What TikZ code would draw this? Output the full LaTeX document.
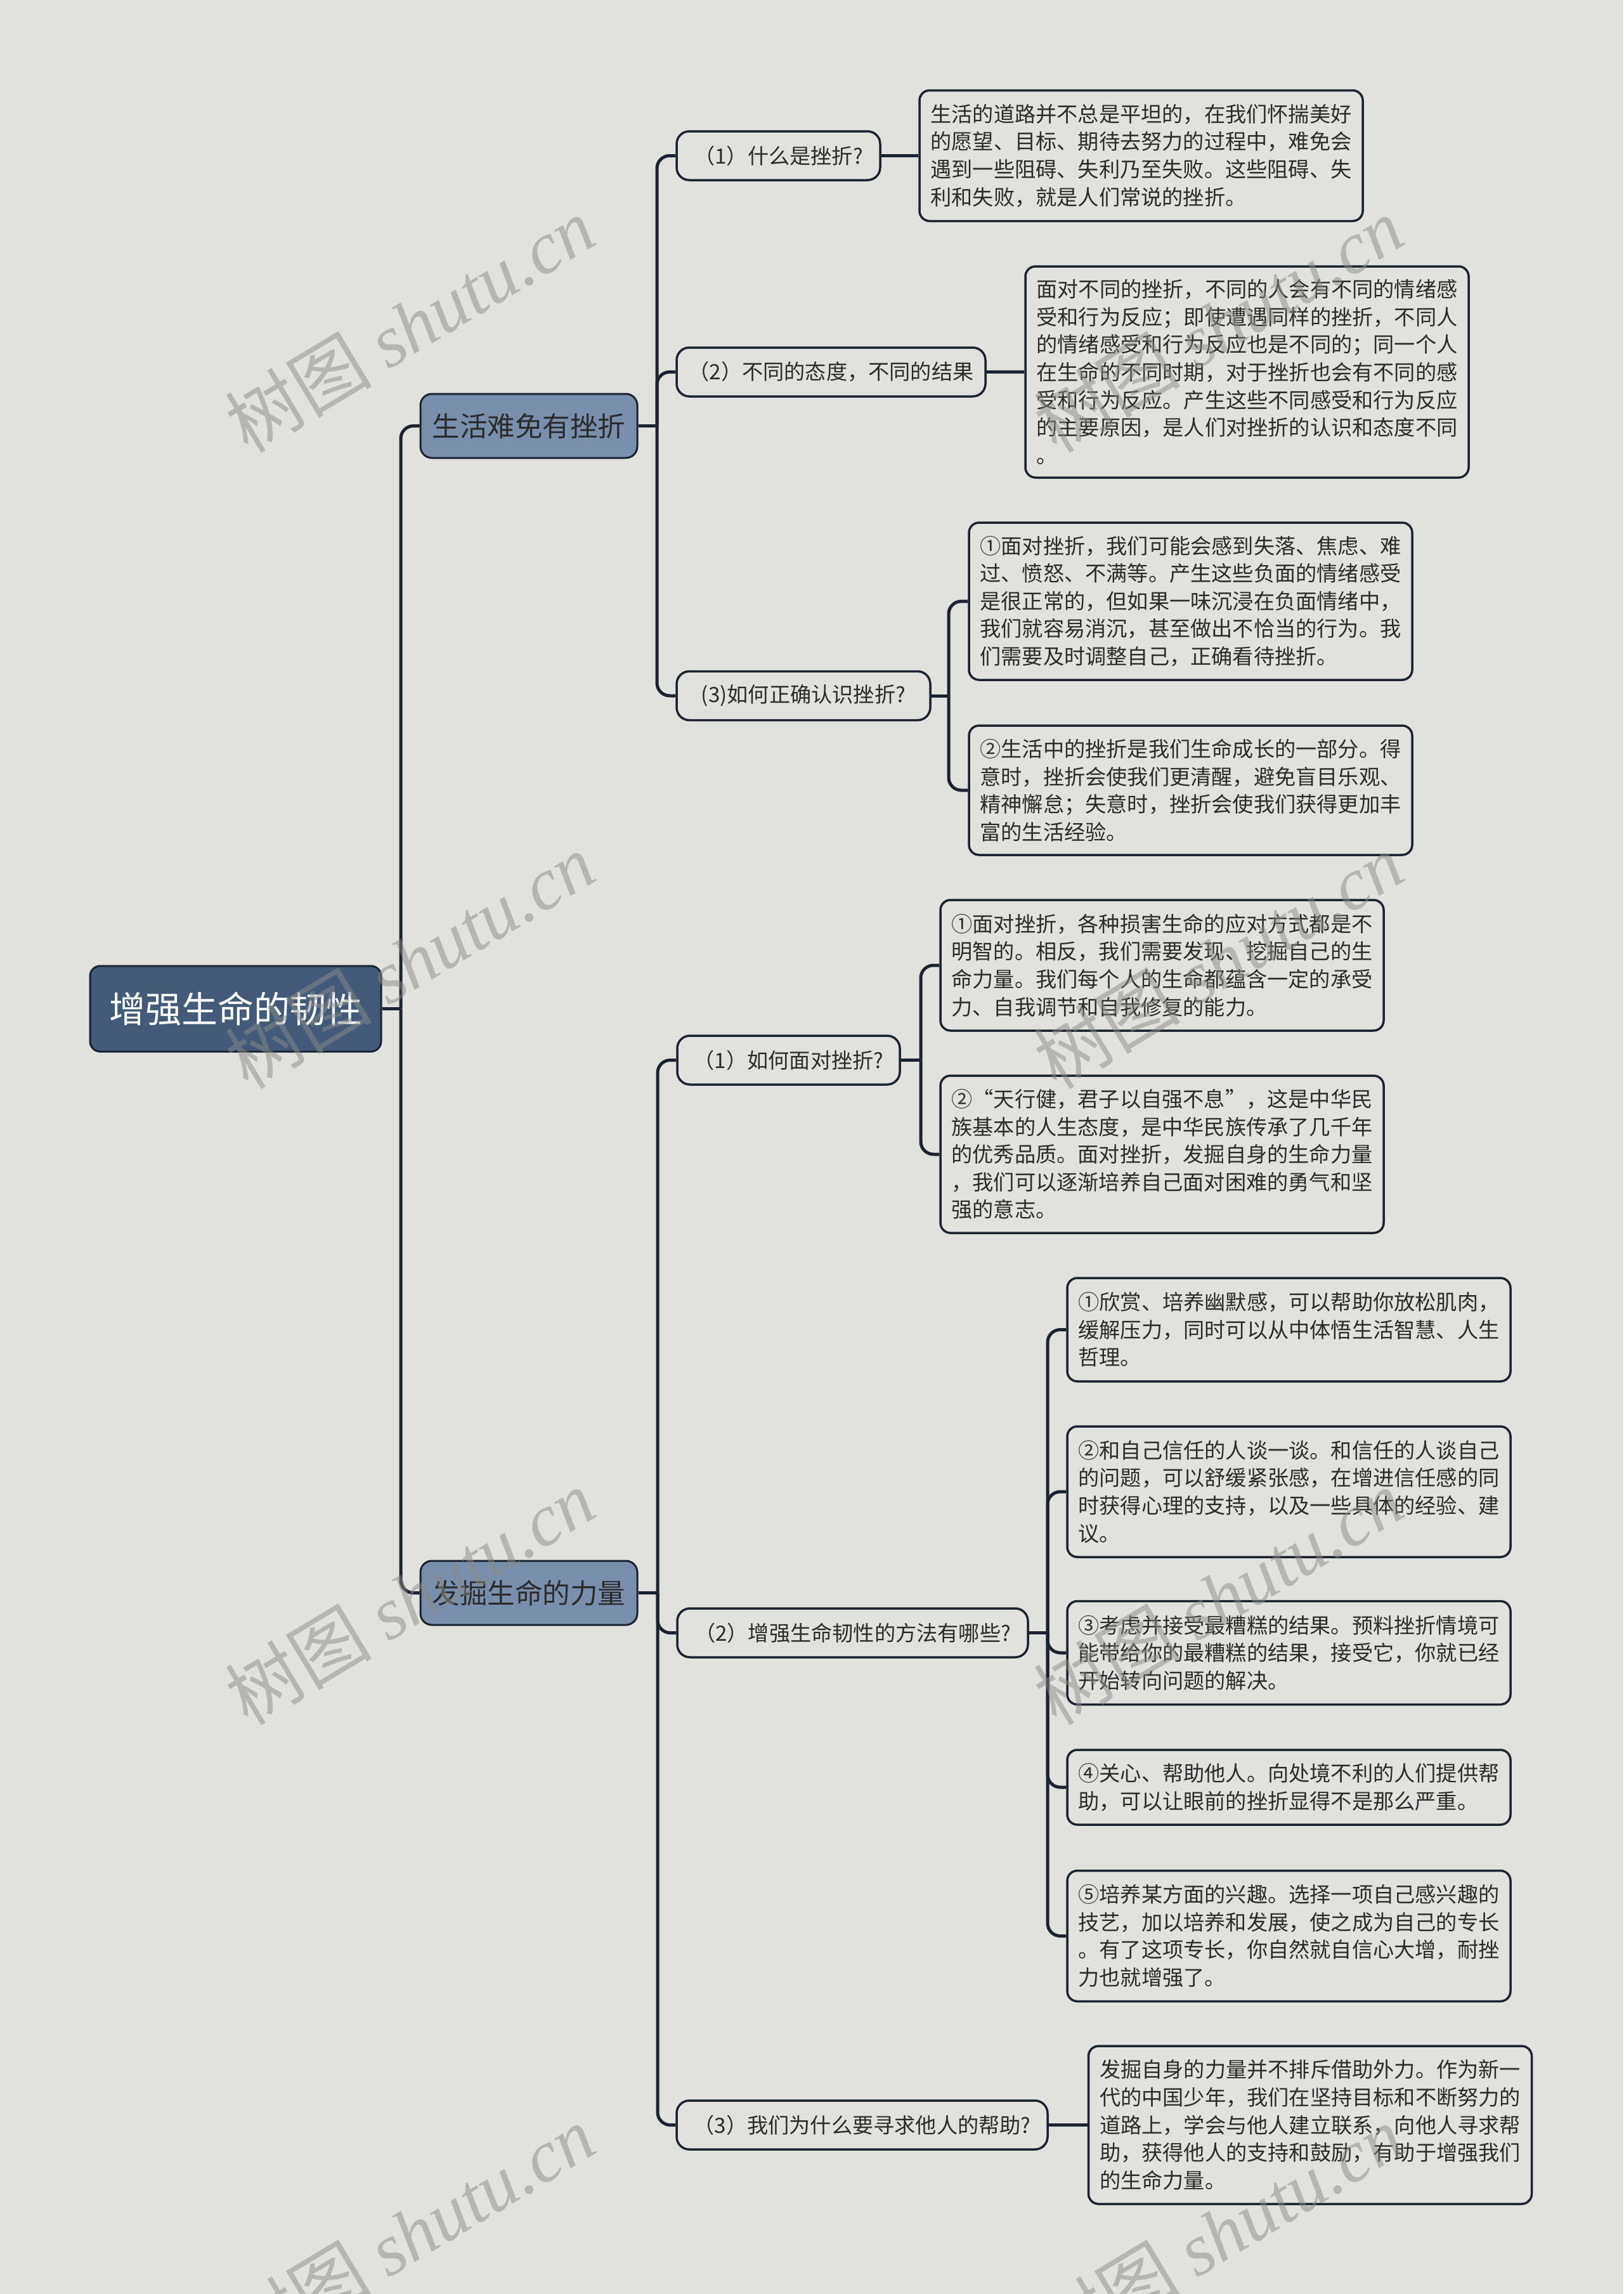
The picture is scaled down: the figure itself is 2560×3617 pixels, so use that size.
\documentclass[tikz,border=0pt]{standalone}
\usepackage{fontspec}
\setmainfont{Noto Sans CJK SC}
\newfontfamily\wmserif{Liberation Serif}
\definecolor{bg}{HTML}{E1E1DD}
\definecolor{rootfill}{HTML}{435A79}
\definecolor{lonefill}{HTML}{7A8FAB}
\definecolor{linec}{HTML}{1B2331}
\definecolor{txt}{HTML}{2B2B2B}
\definecolor{wm}{HTML}{8A8A86}
\tikzset{
  box/.style={rectangle, draw=linec, line width=3.5pt, inner sep=0pt, text=txt},
  rootbox/.style={box, fill=rootfill, text=white, rounded corners=16pt, line width=3pt,
    font=\fontsize{57}{70}\selectfont},
  lonebox/.style={box, fill=lonefill, rounded corners=18pt, line width=3pt,
    font=\fontsize{43.5}{52}\selectfont},
  ltwobox/.style={box, rounded corners=20pt, font=\fontsize{33.2}{40}\selectfont},
  leafbox/.style={box, rounded corners=16pt, align=left, font=\fontsize{33.2}{43.6}\selectfont},
  conn/.style={draw=linec, line width=5pt, line join=round},
  rconn/.style={conn, rounded corners=20pt},
  wmark/.style={text=wm, opacity=0.5, rotate=31, inner sep=0pt, font=\fontsize{116}{120}\selectfont}
}
\begin{document}
\begin{tikzpicture}[x=1pt,y=-1pt]
\useasboundingbox (0,0) rectangle (2560,3617);
\fill[bg] (0,0) rectangle (2560,3617);

% root and level 1
\node[rootbox, minimum width=459pt, minimum height=135pt] (root) at (371.5,1590.5) {增强生命的韧性};
\node[lonebox, minimum width=342pt, minimum height=101pt] (la) at (834,671.5) {生活难免有挫折};
\node[lonebox, minimum width=342pt, minimum height=101pt] (lb) at (834,2511.5) {发掘生命的力量};

% level 2, group 1
\node[ltwobox, minimum width=321pt, minimum height=77pt] (a1) at (1227.5,245.5) {（1）什么是挫折?};
\node[ltwobox, minimum width=487pt, minimum height=77pt] (a2) at (1310.5,586.5) {（2）不同的态度，不同的结果};
\node[ltwobox, minimum width=400pt, minimum height=77pt] (a3) at (1267,1097) {(3)如何正确认识挫折?};

% level 2, group 2
\node[ltwobox, minimum width=351pt, minimum height=77pt] (b1) at (1243.5,1671.5) {（1）如何面对挫折?};
\node[ltwobox, minimum width=553pt, minimum height=77pt] (b2) at (1344.5,2574.5) {（2）增强生命韧性的方法有哪些?};
\node[ltwobox, minimum width=585pt, minimum height=77pt] (b3) at (1359.5,3350.5) {（3）我们为什么要寻求他人的帮助?};

% leaves group 1
\node[leafbox, minimum width=699pt, minimum height=206pt] (lfa) at (1799.5,245.5) {生活的道路并不总是平坦的，在我们怀揣美好\\的愿望、目标、期待去努力的过程中，难免会\\遇到一些阻碍、失利乃至失败。这些阻碍、失\\利和失败，就是人们常说的挫折。};
\node[leafbox, minimum width=699pt, minimum height=333pt] (lfb) at (1966.5,586.5) {面对不同的挫折，不同的人会有不同的情绪感\\受和行为反应；即使遭遇同样的挫折，不同人\\的情绪感受和行为反应也是不同的；同一个人\\在生命的不同时期，对于挫折也会有不同的感\\受和行为反应。产生这些不同感受和行为反应\\的主要原因，是人们对挫折的认识和态度不同\\。};
\node[leafbox, minimum width=699pt, minimum height=248pt] (lfc) at (1877.5,948) {①面对挫折，我们可能会感到失落、焦虑、难\\过、愤怒、不满等。产生这些负面的情绪感受\\是很正常的，但如果一味沉浸在负面情绪中，\\我们就容易消沉，甚至做出不恰当的行为。我\\们需要及时调整自己，正确看待挫折。};
\node[leafbox, minimum width=699pt, minimum height=204pt] (lfd) at (1877.5,1246) {②生活中的挫折是我们生命成长的一部分。得\\意时，挫折会使我们更清醒，避免盲目乐观、\\精神懈怠；失意时，挫折会使我们获得更加丰\\富的生活经验。};

% leaves group 2
\node[leafbox, minimum width=699pt, minimum height=206pt] (lfe) at (1832.5,1522) {①面对挫折，各种损害生命的应对方式都是不\\明智的。相反，我们需要发现、挖掘自己的生\\命力量。我们每个人的生命都蕴含一定的承受\\力、自我调节和自我修复的能力。};
\node[leafbox, minimum width=699pt, minimum height=248pt] (lff) at (1832.5,1820) {②“天行健，君子以自强不息”，这是中华民\\族基本的人生态度，是中华民族传承了几千年\\的优秀品质。面对挫折，发掘自身的生命力量\\，我们可以逐渐培养自己面对困难的勇气和坚\\强的意志。};
\node[leafbox, minimum width=699pt, minimum height=163pt] (lfg) at (2032.5,2096.5) {①欣赏、培养幽默感，可以帮助你放松肌肉，\\缓解压力，同时可以从中体悟生活智慧、人生\\哲理。};
\node[leafbox, minimum width=699pt, minimum height=206pt] (lfh) at (2032.5,2352) {②和自己信任的人谈一谈。和信任的人谈自己\\的问题，可以舒缓紧张感，在增进信任感的同\\时获得心理的支持，以及一些具体的经验、建\\议。};
\node[leafbox, minimum width=699pt, minimum height=163pt] (lfi) at (2032.5,2606) {③考虑并接受最糟糕的结果。预料挫折情境可\\能带给你的最糟糕的结果，接受它，你就已经\\开始转向问题的解决。};
\node[leafbox, minimum width=699pt, minimum height=118pt] (lfj) at (2032.5,2818) {④关心、帮助他人。向处境不利的人们提供帮\\助，可以让眼前的挫折显得不是那么严重。};
\node[leafbox, minimum width=699pt, minimum height=206pt] (lfk) at (2032.5,3052.5) {⑤培养某方面的兴趣。选择一项自己感兴趣的\\技艺，加以培养和发展，使之成为自己的专长\\。有了这项专长，你自然就自信心大增，耐挫\\力也就增强了。};
\node[leafbox, minimum width=699pt, minimum height=249pt] (lfl) at (2066,3350.5) {发掘自身的力量并不排斥借助外力。作为新一\\代的中国少年，我们在坚持目标和不断努力的\\道路上，学会与他人建立联系，向他人寻求帮\\助，获得他人的支持和鼓励，有助于增强我们\\的生命力量。};

% trunk coordinates
\coordinate (t0) at (632,0);
\coordinate (t1) at (1036,0);
\coordinate (t2) at (1037,0);
\coordinate (s3) at (1496,0);
\coordinate (sb1) at (1452,0);
\coordinate (sb2) at (1652,0);

% connectors root
\draw[conn] (root.east) -- (root.east -| t0);
\draw[rconn] (root.east -| t0) |- (la.west);
\draw[rconn] (root.east -| t0) |- (lb.west);

% group 1
\draw[conn] (la.east) -- (la.east -| t1);
\draw[rconn] (la.east -| t1) |- (a1.west);
\draw[rconn] (la.east -| t1) |- (a2.west);
\draw[rconn] (la.east -| t1) |- (a3.west);
\draw[conn] (a1.east) -- (lfa.west);
\draw[conn] (a2.east) -- (lfb.west);
\draw[conn] (a3.east) -- (a3.east -| s3);
\draw[rconn] (a3.east -| s3) |- (lfc.west);
\draw[rconn] (a3.east -| s3) |- (lfd.west);

% group 2
\draw[conn] (lb.east) -- (lb.east -| t2);
\draw[rconn] (lb.east -| t2) |- (b1.west);
\draw[rconn] (lb.east -| t2) |- (b2.west);
\draw[rconn] (lb.east -| t2) |- (b3.west);
\draw[conn] (b1.east) -- (b1.east -| sb1);
\draw[rconn] (b1.east -| sb1) |- (lfe.west);
\draw[rconn] (b1.east -| sb1) |- (lff.west);
\draw[conn] (b2.east) -- (b2.east -| sb2);
\draw[rconn] (b2.east -| sb2) |- (lfg.west);
\draw[rconn] (b2.east -| sb2) |- (lfh.west);
\draw[rconn] (b2.east -| sb2) |- (lfi.west);
\draw[rconn] (b2.east -| sb2) |- (lfj.west);
\draw[rconn] (b2.east -| sb2) |- (lfk.west);
\draw[conn] (b3.east) -- (lfl.west);

% watermarks
\begin{scope}
\clip (0,0) rectangle (2560,3617);
\foreach \wy [count=\i] in {512,1515,2518,3521}{
  \node[wmark] (wl\i) at (646,\wy) {树图 {\wmserif\itshape shutu.cn}};
  \node[wmark] (wr\i) at (1921,\wy) {树图 {\wmserif\itshape shutu.cn}};
}
\end{scope}
\end{tikzpicture}
\end{document}
